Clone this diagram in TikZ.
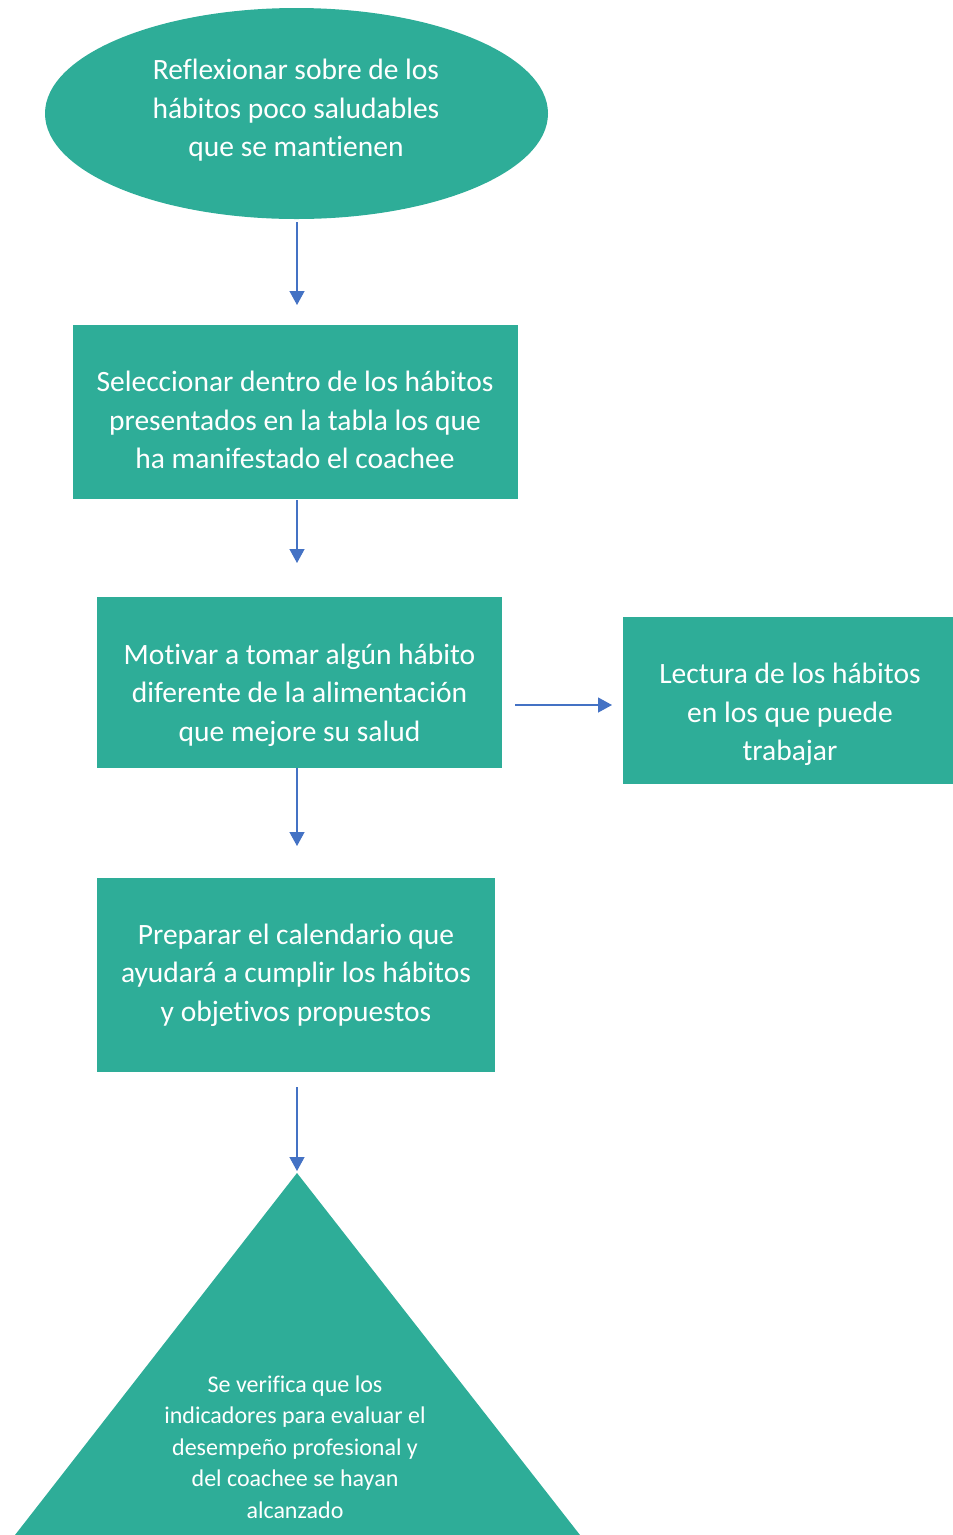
\documentclass[tikz,border=0pt]{standalone}
\usepackage{fontspec}
\setmainfont{Carlito}[Ligatures=NoCommon]
\usetikzlibrary{shapes.geometric,arrows.meta}
\definecolor{pasoverde}{HTML}{2EAD98}
\definecolor{flechaazul}{HTML}{4472C4}
\tikzset{
  paso/.style={fill=pasoverde, inner sep=0pt},
  texto/.style={text=white, inner sep=0pt, align=center,
    font=\fontsize{29.5}{38.5}\selectfont},
  flecha/.style={draw=flechaazul, line width=1.3pt,
    -{Triangle[width=15pt,length=14pt]}}
}

\begin{document}
\begin{tikzpicture}[x=1pt,y=-1pt]
  \useasboundingbox (0,0) rectangle (953,1535);
  % pasos del proceso
  \node[paso, ellipse, minimum width=503pt, minimum height=211pt] (reflexionar) at (296.5,113.5) {};
  \node[paso, minimum width=445pt, minimum height=174pt] (seleccionar) at (295.5,412) {};
  \node[paso, minimum width=405pt, minimum height=171pt] (motivar) at (299.5,682.5) {};
  \node[paso, minimum width=330pt, minimum height=167pt] (lectura) at (788,700.5) {};
  \node[paso, minimum width=398pt, minimum height=194pt] (preparar) at (296,975) {};
  \fill[pasoverde] (297,1173) -- (580,1535) -- (15,1535) -- cycle;
  % textos
  \node[texto] (reflexionar-t) at (296,110.5)
    {Reflexionar sobre de los\\ hábitos poco saludables\\ que se mantienen};
  \node[texto] (seleccionar-t) at (295,420)
    {Seleccionar dentro de los hábitos\\ presentados en la tabla los que\\ ha manifestado el coachee};
  \node[texto] (motivar-t) at (299.5,695)
    {Motivar a tomar algún hábito\\ diferente de la alimentación\\ que mejore su salud};
  \node[texto] (lectura-t) at (790,714.5)
    {Lectura de los hábitos\\ en los que puede\\ trabajar};
  \node[texto] (preparar-t) at (296,975)
    {Preparar el calendario que\\ ayudará a cumplir los hábitos\\ y objetivos propuestos};
  \node[texto, font=\fontsize{24}{31.5}\selectfont] (verifica) at (295,1447)
    {Se verifica que los\\ indicadores para evaluar el\\ desempeño profesional y\\ del coachee se hayan\\ alcanzado};
  % extremos de las flechas
  \coordinate (f1a) at (297,222);  \coordinate (f1b) at (297,305);
  \coordinate (f2a) at (297,500);  \coordinate (f2b) at (297,563);
  \coordinate (f3a) at (297,768);  \coordinate (f3b) at (297,846);
  \coordinate (f4a) at (297,1087); \coordinate (f4b) at (297,1171);
  \coordinate (f5a) at (515,705);  \coordinate (f5b) at (612,705);
  \draw[flecha] (f1a) -- (f1b);
  \draw[flecha] (f2a) -- (f2b);
  \draw[flecha] (f3a) -- (f3b);
  \draw[flecha] (f4a) -- (f4b);
  \draw[flecha] (f5a) -- (f5b);
\end{tikzpicture}
\end{document}
